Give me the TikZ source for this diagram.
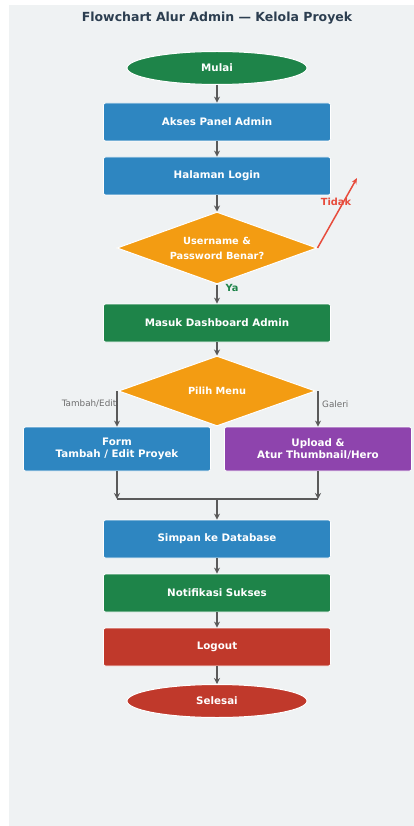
\documentclass[tikz,border=0pt]{standalone}
\usepackage{fontspec}
\setmainfont{DejaVu Sans}
\usetikzlibrary{shapes.geometric,arrows.meta}
\definecolor{bgpanel}{HTML}{EFF2F3}
\definecolor{cgreen}{HTML}{1E8449}
\definecolor{cblue}{HTML}{2E86C1}
\definecolor{corange}{HTML}{F39C12}
\definecolor{cpurple}{HTML}{8E44AD}
\definecolor{cred}{HTML}{C0392B}
\definecolor{cbright}{HTML}{E74C3C}
\definecolor{ctitle}{HTML}{2C3E50}
\definecolor{carrow}{HTML}{5A5A5A}
\definecolor{clabel}{HTML}{6E6E6E}
\tikzset{
  x=1pt, y=-1pt,
  txt/.style={text=white, font=\bfseries\fontsize{10.3}{12.3}\selectfont, align=center, inner sep=0pt},
  procbox/.style={txt, rectangle, rounded corners=2pt, draw=white, line width=0.8pt, minimum width=227pt, minimum height=38pt},
  sidebox/.style={txt, rectangle, rounded corners=2pt, draw=white, line width=0.8pt, minimum width=187pt, minimum height=44pt},
  termnode/.style={txt, ellipse, draw=white, line width=1pt, minimum width=180pt, minimum height=33pt},
  decnode/.style={txt, diamond, shape aspect=2.8, draw=white, line width=1pt, fill=corange, font=\bfseries\fontsize{9.8}{15}\selectfont},
  arr/.style={draw=carrow, line width=1.8pt, -{Stealth[length=6pt,width=6pt]}},
  plain/.style={draw=carrow, line width=1.8pt},
  branchlbl/.style={text=clabel, font=\fontsize{8.8}{10}\selectfont, inner sep=0pt},
  yesno/.style={font=\bfseries\fontsize{9.8}{11}\selectfont, inner sep=0pt},
}
\begin{document}
\begin{tikzpicture}
\useasboundingbox (0,0) rectangle (414,826);
\fill[white] (0,0) rectangle (414,826);
\fill[bgpanel] (9,5) rectangle (414,826);
\node[text=ctitle, font=\bfseries\fontsize{12.5}{14}\selectfont, inner sep=0pt] (title) at (217,18) {Flowchart Alur Admin — Kelola Proyek};

\node[termnode, fill=cgreen] (mulai) at (217,68) {Mulai};
\node[procbox, fill=cblue] (akses) at (217,122) {Akses Panel Admin};
\node[procbox, fill=cblue] (login) at (217,176) {Halaman Login};
\node[decnode, minimum width=200pt, minimum height=72pt] (cek) at (217,248) {Username \&\\Password Benar?};
\node[procbox, fill=cgreen] (dash) at (217,323) {Masuk Dashboard Admin};
\node[decnode, minimum width=197pt, minimum height=70pt] (menu) at (217,391) {Pilih Menu};
\node[sidebox, fill=cblue] (form) at (117,449) {Form\\Tambah / Edit Proyek};
\node[sidebox, fill=cpurple] (upload) at (318,449) {Upload \&\\Atur Thumbnail/Hero};
\coordinate (join) at (217,499);
\node[procbox, fill=cblue] (simpan) at (217,539) {Simpan ke Database};
\node[procbox, fill=cgreen] (notif) at (217,593) {Notifikasi Sukses};
\node[procbox, fill=cred] (logout) at (217,647) {Logout};
\node[termnode, fill=cred] (selesai) at (217,701) {Selesai};
\coordinate (tidakend) at (357,178);

\draw[arr] (mulai) -- (akses);
\draw[arr] (akses) -- (login);
\draw[arr] (login) -- (cek);
\draw[arr] (cek) -- (dash);
\node[yesno, text=cgreen] (ya) at (232,288) {Ya};
\draw[draw=cbright, line width=1.5pt, -{Stealth[length=6pt,width=5pt]}] (cek.east) -- (tidakend);
\node[yesno, text=cbright] (tidak) at (336,202) {Tidak};
\draw[arr] (dash) -- (menu);
\draw[arr] (menu.west -| form.north) -- (form.north);
\draw[arr] (menu.east -| upload.north) -- (upload.north);
\node[branchlbl] (lblkiri) at (89,404) {Tambah/Edit};
\node[branchlbl, anchor=west] (lblkanan) at (322,404) {Galeri};
\draw[arr] (form.south) -- (form.south |- join);
\draw[arr] (upload.south) -- (upload.south |- join);
\draw[plain] (form.south |- join) -- (upload.south |- join);
\draw[arr] (join) -- (simpan);
\draw[arr] (simpan) -- (notif);
\draw[arr] (notif) -- (logout);
\draw[arr] (logout) -- (selesai);
\end{tikzpicture}
\end{document}
